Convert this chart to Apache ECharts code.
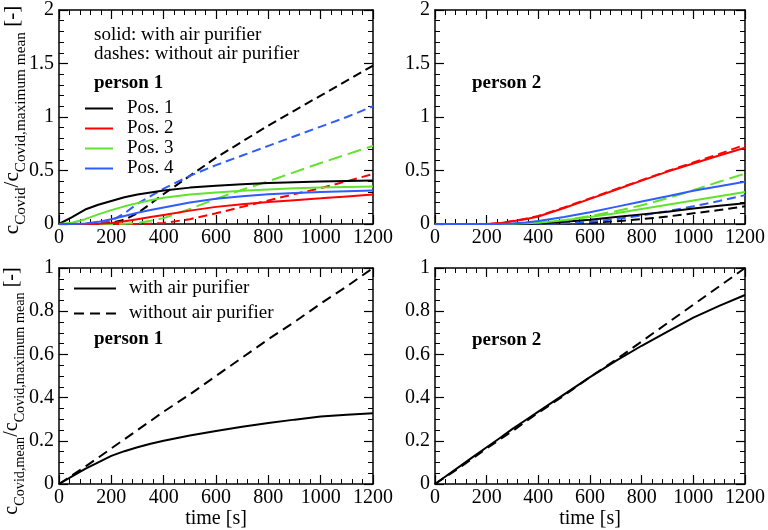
<!DOCTYPE html>
<html>
<head>
<meta charset="utf-8">
<script src="https://cdn.jsdelivr.net/npm/echarts@6/dist/echarts.min.js"></script>
<style>html,body{margin:0;padding:0;background:#fff;}#c{width:768px;height:530px;}</style>
</head>
<body>
<div id="c"></div>
<script>
// ---- data ----
const time = [0, 50, 100, 150, 200, 250, 300, 350, 400, 500, 600, 700, 800, 900, 1000, 1100, 1200];
const xTicks = [0, 200, 400, 600, 800, 1000, 1200];
const yTicksTop = [0, 0.5, 1, 1.5, 2];
const yTicksBottom = [0, 0.2, 0.4, 0.6, 0.8, 1];
const posNames = ['Pos. 1', 'Pos. 2', 'Pos. 3', 'Pos. 4'];
const meanNames = ['with air purifier', 'without air purifier'];

// person 1, local concentration
const p1Pos1With    = [0, 0.065, 0.135, 0.18, 0.215, 0.25, 0.275, 0.295, 0.313, 0.34, 0.358, 0.372, 0.383, 0.391, 0.397, 0.402, 0.406];
const p1Pos1Without = [0, 0, 0, 0, 0.01, 0.04, 0.1, 0.19, 0.28, 0.45, 0.62, 0.77, 0.92, 1.06, 1.2, 1.34, 1.48];
const p1Pos2With    = [0, 0, 0, 0.002, 0.01, 0.025, 0.045, 0.065, 0.085, 0.125, 0.16, 0.185, 0.205, 0.223, 0.24, 0.258, 0.276];
const p1Pos2Without = [0, 0, 0, 0, 0, 0, 0, 0.003, 0.01, 0.045, 0.1, 0.16, 0.22, 0.28, 0.335, 0.4, 0.467];
const p1Pos3With    = [0, 0.012, 0.045, 0.09, 0.13, 0.165, 0.195, 0.222, 0.245, 0.275, 0.295, 0.31, 0.322, 0.333, 0.34, 0.346, 0.35];
const p1Pos3Without = [0, 0, 0, 0, 0, 0.003, 0.01, 0.03, 0.055, 0.14, 0.235, 0.32, 0.4, 0.485, 0.57, 0.65, 0.73];
const p1Pos4With    = [0, 0, 0.005, 0.02, 0.045, 0.075, 0.105, 0.13, 0.155, 0.2, 0.235, 0.26, 0.278, 0.29, 0.3, 0.307, 0.313];
const p1Pos4Without = [0, 0, 0, 0.005, 0.03, 0.1, 0.19, 0.26, 0.33, 0.45, 0.55, 0.64, 0.73, 0.82, 0.91, 1.0, 1.1];

// person 2, local concentration
const p2Pos1With    = [0, 0, 0, 0, 0, 0, 0, 0.002, 0.005, 0.02, 0.04, 0.065, 0.09, 0.115, 0.145, 0.17, 0.195];
const p2Pos1Without = [0, 0, 0, 0, 0, 0, 0, 0, 0, 0.003, 0.01, 0.025, 0.045, 0.07, 0.1, 0.13, 0.165];
const p2Pos2With    = [0, 0, 0, 0, 0, 0.008, 0.025, 0.045, 0.07, 0.15, 0.235, 0.32, 0.405, 0.49, 0.565, 0.64, 0.712];
const p2Pos2Without = [0, 0, 0, 0, 0, 0.01, 0.028, 0.05, 0.075, 0.155, 0.24, 0.325, 0.41, 0.495, 0.575, 0.655, 0.74];
const p2Pos3With    = [0, 0, 0, 0, 0, 0, 0.002, 0.006, 0.012, 0.035, 0.065, 0.1, 0.14, 0.18, 0.22, 0.26, 0.3];
const p2Pos3Without = [0, 0, 0, 0, 0, 0, 0.002, 0.005, 0.01, 0.035, 0.075, 0.12, 0.175, 0.24, 0.315, 0.395, 0.47];
const p2Pos4With    = [0, 0, 0, 0, 0, 0, 0.005, 0.015, 0.028, 0.065, 0.11, 0.16, 0.21, 0.26, 0.31, 0.352, 0.395];
const p2Pos4Without = [0, 0, 0, 0, 0, 0, 0, 0, 0, 0.005, 0.02, 0.045, 0.08, 0.12, 0.165, 0.215, 0.27];

// mean concentration
const p1MeanWith    = [0, 0.035, 0.07, 0.1, 0.13, 0.152, 0.17, 0.186, 0.2, 0.225, 0.245, 0.265, 0.282, 0.298, 0.312, 0.321, 0.328];
const p1MeanWithout = [0, 0.04, 0.08, 0.122, 0.165, 0.207, 0.25, 0.292, 0.335, 0.415, 0.5, 0.585, 0.67, 0.75, 0.835, 0.915, 1.0];
const p2MeanWith    = [0, 0.043, 0.085, 0.128, 0.17, 0.212, 0.255, 0.295, 0.335, 0.415, 0.495, 0.57, 0.64, 0.705, 0.77, 0.825, 0.875];
const p2MeanWithout = [0, 0.04, 0.08, 0.122, 0.165, 0.205, 0.245, 0.288, 0.33, 0.41, 0.495, 0.575, 0.66, 0.745, 0.83, 0.915, 1.0];

// ---- styling ----
const FONT = "'Liberation Serif', 'DejaVu Serif', serif";
const FS = 19;
const TFS = 20;
const colors = ['#000000', '#ff0000', '#5fe32c', '#2f5cff'];
const grids = [
  {left: 59, top: 7, width: 314, height: 217},
  {left: 435, top: 7, width: 314, height: 217},
  {left: 59, top: 268, width: 314, height: 216},
  {left: 435, top: 268, width: 314, height: 216}
];

function pairs(vals) { return time.map((t, i) => [t, vals[i]]); }
const plain = v => String(v);

function xAx(gi, pos, showLabel, name) {
  return {
    type: 'value', gridIndex: gi, position: pos, min: xTicks[0], max: xTicks[xTicks.length - 1],
    interval: xTicks[1] - xTicks[0],
    axisLine: {show: true, onZero: false, lineStyle: {color: '#000', width: 1.5}},
    axisTick: {show: true, inside: true, length: 9, lineStyle: {color: '#000', width: 1.2}},
    minorTick: {show: true, splitNumber: 5, length: 5, lineStyle: {color: '#000', width: 1}},
    splitLine: {show: false},
    axisLabel: {show: showLabel, color: '#000', fontFamily: FONT, fontSize: TFS, margin: 4, formatter: plain},
    name: name || '', nameLocation: 'middle', nameGap: 22,
    nameTextStyle: {color: '#000', fontFamily: FONT, fontSize: TFS}
  };
}
function yAx(gi, pos, showLabel, ticks, minorSplit) {
  return {
    type: 'value', gridIndex: gi, position: pos, min: ticks[0], max: ticks[ticks.length - 1],
    interval: ticks[1] - ticks[0],
    axisLine: {show: true, onZero: false, lineStyle: {color: '#000', width: 1.5}},
    axisTick: {show: true, inside: true, length: 9, lineStyle: {color: '#000', width: 1.2}},
    minorTick: {show: true, splitNumber: minorSplit, length: 5, lineStyle: {color: '#000', width: 1}},
    splitLine: {show: false},
    axisLabel: {show: showLabel, color: '#000', fontFamily: FONT, fontSize: TFS, margin: 5, formatter: plain}
  };
}

const xAxis = [], yAxis = [];
grids.forEach((g, i) => {
  xAxis.push(xAx(i, 'bottom', true, i >= 2 ? 'time [s]' : ''));
  xAxis.push(xAx(i, 'top', false));
  const tk = i < 2 ? yTicksTop : yTicksBottom;
  const ms = i < 2 ? 5 : 4;
  yAxis.push(yAx(i, 'left', true, tk, ms));
  yAxis.push(yAx(i, 'right', false, tk, ms));
});

function line(gi, name, vals, color, dash) {
  return {
    type: 'line', name: name, xAxisIndex: gi * 2, yAxisIndex: gi * 2,
    data: pairs(vals), symbol: 'none', smooth: false,
    lineStyle: {color: color, width: 2, type: dash || 'solid'},
    itemStyle: {color: color}, animation: false, silent: true
  };
}

const p1With = [p1Pos1With, p1Pos2With, p1Pos3With, p1Pos4With];
const p1Without = [p1Pos1Without, p1Pos2Without, p1Pos3Without, p1Pos4Without];
const p2With = [p2Pos1With, p2Pos2With, p2Pos3With, p2Pos4With];
const p2Without = [p2Pos1Without, p2Pos2Without, p2Pos3Without, p2Pos4Without];
const dashes = [[9, 5], [9, 5], [14, 6], [9, 5]];

const series = [];
for (let k = 0; k < 4; k++) {
  series.push(line(0, posNames[k] + ' without', p1Without[k], colors[k], dashes[k]));
  series.push(line(1, posNames[k] + ' without', p2Without[k], colors[k], dashes[k]));
}
for (let k = 0; k < 4; k++) {
  series.push(line(0, posNames[k], p1With[k], colors[k]));
  series.push(line(1, posNames[k] + ' p2', p2With[k], colors[k]));
}
series.push(line(2, meanNames[0], p1MeanWith, '#000'));
series.push(line(2, meanNames[1], p1MeanWithout, '#000', [10, 6]));
series.push(line(3, meanNames[0] + ' p2', p2MeanWith, '#000'));
series.push(line(3, meanNames[1] + ' p2', p2MeanWithout, '#000', [10, 6]));

function richFor(main, sub) {
  return {
    m: {fontFamily: FONT, fontSize: main, color: '#000', verticalAlign: 'middle', lineHeight: main},
    s: {fontFamily: FONT, fontSize: sub, color: '#000', verticalAlign: 'bottom', lineHeight: Math.round(main * 1.57)}
  };
}
function txt(x, y, s, bold) {
  return {type: 'text', x: x, y: y, silent: true,
    style: {text: s, fill: '#000', font: (bold ? 'bold ' : '') + FS + 'px ' + FONT,
      textAlign: 'left', textVerticalAlign: 'middle', align: 'left', verticalAlign: 'middle'}};
}
function ylab(x, y, s, main, sub) {
  return {type: 'text', x: x, y: y, rotation: Math.PI / 2, silent: true,
    style: {text: s, rich: richFor(main, sub), fill: '#000', font: main + 'px ' + FONT,
      textAlign: 'center', textVerticalAlign: 'middle', align: 'center', verticalAlign: 'middle'}};
}

const legendBase = {
  orient: 'vertical', padding: 0, selectedMode: false,
  itemStyle: {opacity: 0, borderWidth: 0},
  textStyle: {fontFamily: FONT, fontSize: FS, color: '#000'}
};

const option = {
  backgroundColor: '#fff',
  animation: false,
  grid: grids,
  xAxis: xAxis,
  yAxis: yAxis,
  series: series,
  legend: [
    Object.assign({}, legendBase, {data: posNames, left: 84, top: 99, itemGap: 1,
      itemWidth: 28, itemHeight: 10,
      textStyle: {fontFamily: FONT, fontSize: FS, color: '#000', padding: [0, 0, 0, 9]}}),
    Object.assign({}, legendBase, {data: meanNames, left: 73, top: 279, itemGap: 6,
      itemWidth: 42, itemHeight: 10,
      textStyle: {fontFamily: FONT, fontSize: FS, color: '#000', padding: [0, 0, 0, 8]}})
  ],
  graphic: [
    txt(94, 35, 'solid: with air purifier'),
    txt(94, 54, 'dashes: without air purifier'),
    txt(94, 83, 'person 1', true),
    txt(472, 83, 'person 2', true),
    txt(94, 339, 'person 1', true),
    txt(472, 340, 'person 2', true),
    ylab(12, 120, '{m|c}{s|Covid}{m|/c}{s|Covid,maximum mean}{m| [-]}', 21, 15.3),
    ylab(12, 391, '{m|c}{s|Covid,mean}{m|/c}{s|Covid,maximum mean}{m| [-]}', 20, 14.2)
  ]
};

const chart = echarts.init(document.getElementById('c'), null, {renderer: 'canvas'});
chart.setOption(option);
</script>
</body>
</html>
